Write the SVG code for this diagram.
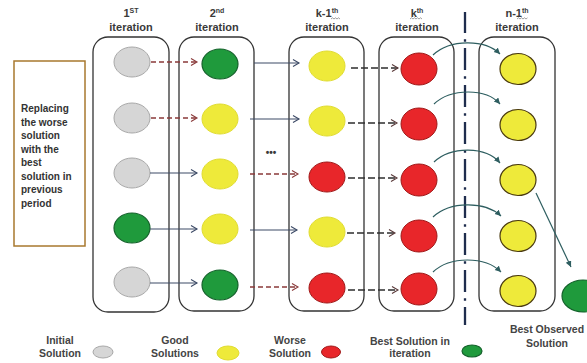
<svg xmlns="http://www.w3.org/2000/svg" width="587" height="363" viewBox="0 0 587 363">
<style>
text{font-family:"Liberation Sans",Arial,sans-serif;font-weight:bold;fill:#3a3a3a}
.hdr{font-size:11px;text-anchor:middle}
.lg{font-size:10.5px;text-anchor:middle;fill:#444}
.side{font-size:10px;fill:#333}
.box{fill:none;stroke:#333;stroke-width:1.3}
.g{fill:#d6d6d6;stroke:#a8a8a8;stroke-width:1}
.gr{fill:#1f9a3c;stroke:#13612a;stroke-width:1.2}
.y{fill:#eeea3a;stroke:#e0dc30;stroke-width:1}
.y5{fill:#eeea3a;stroke:#4a3a10;stroke-width:1.2}
.r{fill:#e8262a;stroke:#a01818;stroke-width:1}
.sol{stroke:#3c4a66;stroke-width:1.1;fill:none;marker-end:url(#aS)}
.md{stroke:#8a3a3a;stroke-width:1.3;stroke-dasharray:5 3;fill:none;marker-end:url(#aM)}
.kd{stroke:#2e2e2e;stroke-width:1.3;stroke-dasharray:7 3;fill:none;marker-end:url(#aK)}
.arc{stroke:#2e5e60;stroke-width:1.2;fill:none;marker-end:url(#aT)}
.wv{stroke:#777;stroke-width:0.7;fill:none}
</style>
<defs>
<marker id="aS" markerUnits="userSpaceOnUse" markerWidth="10" markerHeight="10" refX="7" refY="4" orient="auto"><path d="M1,0.5 L7,4 L1,7.5" fill="none" stroke="#3c4a66" stroke-width="1.1"/></marker>
<marker id="aM" markerUnits="userSpaceOnUse" markerWidth="10" markerHeight="10" refX="7" refY="4" orient="auto"><path d="M1,0.5 L7,4 L1,7.5" fill="none" stroke="#8a3a3a" stroke-width="1.1"/></marker>
<marker id="aK" markerUnits="userSpaceOnUse" markerWidth="10" markerHeight="10" refX="7" refY="4" orient="auto"><path d="M1,0.5 L7,4 L1,7.5" fill="none" stroke="#5a3a3a" stroke-width="1.1"/></marker>
<marker id="aT" markerUnits="userSpaceOnUse" markerWidth="8" markerHeight="8" refX="6" refY="3" orient="auto"><path d="M0,0 L6,3 L0,6 Z" fill="#2e5e60"/></marker>
</defs>
<rect width="587" height="363" fill="#fff"/>

<g id="note">
<rect x="14" y="61" width="71" height="185" fill="#fff" stroke="#a8782e" stroke-width="1.5"/>
<text class="side" x="21" y="112">Replacing</text>
<text class="side" x="21" y="125.5">the worse</text>
<text class="side" x="21" y="139">solution</text>
<text class="side" x="21" y="152.5">with the</text>
<text class="side" x="21" y="166">best</text>
<text class="side" x="21" y="179.5">solution in</text>
<text class="side" x="21" y="193">previous</text>
<text class="side" x="21" y="206.5">period</text>
</g>

<g id="separator">
<line x1="465" y1="12" x2="465" y2="325" stroke="#1f2d4d" stroke-width="2.3" stroke-dasharray="22 6.3 2.5 6.2" stroke-dashoffset="1"/>
</g>

<g id="iter1">
<text class="hdr" x="131" y="17">1<tspan font-size="7" dy="-4">ST</tspan></text>
<text class="hdr" x="131" y="31">iteration</text>
<rect class="box" x="93" y="37" width="76" height="275" rx="15"/>
<ellipse class="g" cx="132" cy="62" rx="18" ry="15"/>
<ellipse class="g" cx="132" cy="118" rx="18" ry="15"/>
<ellipse class="g" cx="132" cy="173" rx="18" ry="15"/>
<ellipse class="gr" cx="132" cy="228" rx="18" ry="15"/>
<ellipse class="g" cx="132" cy="282" rx="18" ry="15"/>
</g>

<g id="iter2">
<text class="hdr" x="217" y="17">2<tspan font-size="7" dy="-4">nd</tspan></text>
<text class="hdr" x="217" y="31">iteration</text>
<rect class="box" x="179" y="37" width="75" height="274" rx="15"/>
<ellipse class="gr" cx="220" cy="64" rx="18" ry="15"/>
<ellipse class="y" cx="220" cy="119" rx="18" ry="15"/>
<ellipse class="y" cx="220" cy="174" rx="18" ry="15"/>
<ellipse class="y" cx="220" cy="229" rx="18" ry="15"/>
<ellipse class="gr" cx="220" cy="285" rx="18" ry="15"/>
</g>

<g id="iter3">
<text class="hdr" x="327" y="17">k-1<tspan font-size="7" dy="-4">th</tspan></text>
<path class="wv" d="M331,19 l1.5,-1.2 l1.5,1.2 l1.5,-1.2 l1.5,1.2 l1.5,-1.2 l1.5,1.2"/>
<text class="hdr" x="327" y="31">iteration</text>
<rect class="box" x="289" y="37" width="75" height="274" rx="15"/>
<ellipse class="y" cx="327" cy="66" rx="18" ry="15"/>
<ellipse class="y" cx="327" cy="121" rx="18" ry="15"/>
<ellipse class="r" cx="327" cy="177" rx="18" ry="15"/>
<ellipse class="y" cx="327" cy="232" rx="18" ry="15"/>
<ellipse class="r" cx="327" cy="288" rx="18" ry="15"/>
</g>

<g id="iter4">
<text class="hdr" x="417" y="17">k<tspan font-size="7" dy="-4">th</tspan></text>
<path class="wv" d="M410,19 l1.5,-1.2 l1.5,1.2 l1.5,-1.2 l1.5,1.2 l1.5,-1.2 l1.5,1.2 l1.5,-1.2 l1.5,1.2"/>
<text class="hdr" x="417" y="31">iteration</text>
<rect class="box" x="379" y="37" width="75" height="274" rx="15"/>
<ellipse class="r" cx="419" cy="69" rx="18" ry="16"/>
<ellipse class="r" cx="419" cy="124" rx="18" ry="16"/>
<ellipse class="r" cx="419" cy="180" rx="18" ry="16"/>
<ellipse class="r" cx="419" cy="236" rx="18" ry="16"/>
<ellipse class="r" cx="419" cy="289" rx="18" ry="16"/>
</g>

<g id="iter5">
<text class="hdr" x="517" y="17">n-1<tspan font-size="7" dy="-4">th</tspan></text>
<path class="wv" d="M517,19 l1.5,-1.2 l1.5,1.2 l1.5,-1.2 l1.5,1.2 l1.5,-1.2 l1.5,1.2 l1.5,-1.2"/>
<text class="hdr" x="517" y="31">iteration</text>
<rect class="box" x="479" y="37" width="76" height="274" rx="15"/>
<ellipse class="y5" cx="518" cy="69" rx="18" ry="15.5"/>
<ellipse class="y5" cx="518" cy="125" rx="18" ry="15.5"/>
<ellipse class="y5" cx="518" cy="180" rx="18" ry="15.5"/>
<ellipse class="y5" cx="518" cy="236" rx="18" ry="15.5"/>
<ellipse class="y5" cx="518" cy="291" rx="18" ry="15.5"/>
</g>

<g id="best-observed">
<ellipse class="gr" cx="583" cy="296" rx="21" ry="16"/>
<text class="lg" x="547" y="333">Best Observed</text>
<text class="lg" x="547" y="347">Solution</text>
</g>

<g id="ellipsis">
<text x="271" y="156" font-size="10" text-anchor="middle" fill="#333">•••</text>
</g>

<g id="connectors">
<line class="md" x1="151" y1="62" x2="197" y2="62"/>
<line class="md" x1="151" y1="118" x2="197" y2="118"/>
<line class="sol" x1="150" y1="173" x2="197" y2="173"/>
<line class="sol" x1="150" y1="229" x2="197" y2="229"/>
<line class="sol" x1="150" y1="283" x2="197" y2="283"/>

<line class="sol" x1="254" y1="63" x2="299" y2="63"/>
<line class="sol" x1="250" y1="119" x2="299" y2="119"/>
<line class="md" x1="250" y1="174" x2="298" y2="174"/>
<line class="sol" x1="250" y1="230" x2="297" y2="230"/>
<line class="md" x1="250" y1="287" x2="298" y2="287"/>

<line class="kd" x1="351" y1="68" x2="398" y2="68"/>
<line class="kd" x1="348" y1="123" x2="397" y2="123"/>
<line class="kd" x1="348" y1="178" x2="397" y2="178"/>
<line class="kd" x1="347" y1="233" x2="395" y2="233"/>
<line class="kd" x1="348" y1="290" x2="398" y2="290"/>

<path class="arc" d="M433,55 C450,39 485,39 500,54"/>
<path class="arc" d="M434,104 C451,88 486,88 500,104"/>
<path class="arc" d="M434,162 C451,146 486,146 500,163"/>
<path class="arc" d="M433,217 C450,201 485,201 501,216"/>
<path class="arc" d="M433,272 C450,256 485,256 501,272"/>

<line class="arc" x1="536" y1="193" x2="571" y2="267"/>
</g>

<g id="legend">
<text class="lg" x="60" y="344">Initial</text>
<text class="lg" x="60" y="357">Solution</text>
<ellipse class="g" cx="103" cy="352" rx="10" ry="6"/>
<text class="lg" x="175" y="344">Good</text>
<text class="lg" x="175" y="357">Solutions</text>
<ellipse class="y" cx="228" cy="353" rx="11" ry="7"/>
<text class="lg" x="290" y="344">Worse</text>
<text class="lg" x="290" y="357">Solution</text>
<ellipse class="r" cx="331" cy="352" rx="9.5" ry="6"/>
<text class="lg" x="410" y="345">Best Solution in</text>
<text class="lg" x="410" y="357">iteration</text>
<ellipse class="gr" cx="472" cy="351" rx="10" ry="6"/>
</g>
</svg>
